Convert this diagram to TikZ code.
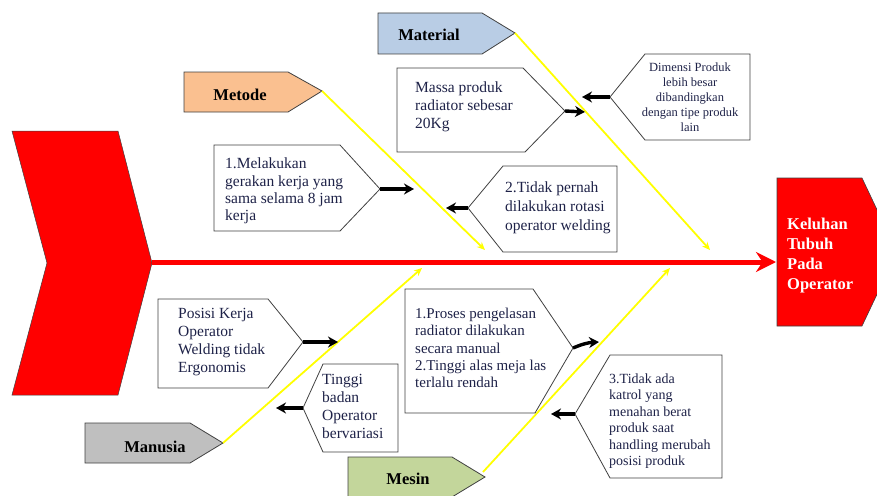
\documentclass[tikz,border=0pt]{standalone}
\usepackage{fontspec}
\setmainfont{Liberation Serif}
\usetikzlibrary{arrows.meta}
\definecolor{txtc}{HTML}{1E2248}
\definecolor{edgec}{HTML}{404040}
\definecolor{matc}{HTML}{B9CDE5}
\definecolor{metc}{HTML}{FAC090}
\definecolor{manc}{HTML}{BFBFBF}
\definecolor{mesc}{HTML}{C3D69B}
\definecolor{redc}{HTML}{FF0000}
\definecolor{yelc}{HTML}{FFFF00}
\begin{document}
\begin{tikzpicture}[x=1pt,y=-1pt,
  shapebox/.style={draw=edgec, line width=0.8pt, fill=white},
  catbox/.style={draw=edgec, line width=0.8pt},
  txtnode/.style={anchor=north west, inner sep=0pt, align=left, text=txtc, font=\fontsize{15.5}{18}\selectfont},
  catlabel/.style={inner sep=0pt, text=black, font=\fontsize{16.5}{18}\selectfont\bfseries},
  bone/.style={draw=yelc, line width=1.8pt, -{Stealth[length=8pt,width=7pt]}},
  causearrow/.style={draw=black, line width=3.4pt, -{Stealth[length=10pt,width=11pt]}}]
\useasboundingbox (0,0) rectangle (877,495);

% tail chevron
\fill[redc] (12,131) -- (118,131) -- (152,263) -- (118,395) -- (12,395) -- (47,263) -- cycle;
\draw[edgec, line width=0.5pt] (12,131) -- (118,131) -- (152,263) -- (118,395) -- (12,395) -- (47,263) -- cycle;
\coordinate (tail) at (152,262);

% head
\fill[redc] (777,178) -- (862,178) -- (897,252) -- (862,326) -- (777,326) -- cycle;
\draw[edgec, line width=0.6pt] (777,178) -- (862,178) -- (897,252) -- (862,326) -- (777,326) -- cycle;
\coordinate (headin) at (776,262);
\node[anchor=north west, inner sep=0pt, align=left, text=white, font=\fontsize{16.5}{20}\selectfont\bfseries] (head) at (787,217.5) {Keluhan\\Tubuh\\Pada\\Operator};

% spine
\draw[redc, line width=5pt, -{Stealth[length=20pt,width=20pt]}] (tail) -- (headin);

% category boxes
\filldraw[catbox, fill=matc] (378,13) -- (482,13) -- (515,33) -- (482,54) -- (378,54) -- cycle;
\coordinate (matTip) at (515,33);
\node[catlabel] (matLabel) at (429,35) {Material};

\filldraw[catbox, fill=metc] (184,72) -- (288,72) -- (322,91) -- (288,112) -- (184,112) -- cycle;
\coordinate (metTip) at (322,91);
\node[catlabel] (metLabel) at (240,95) {Metode};

\filldraw[catbox, fill=manc] (85,423) -- (190,423) -- (223,443) -- (190,463) -- (85,463) -- cycle;
\coordinate (manTip) at (223,443);
\node[catlabel] (manLabel) at (155,447) {Manusia};

\filldraw[catbox, fill=mesc] (348,457) -- (452,457) -- (485,477) -- (452,497) -- (348,497) -- cycle;
\coordinate (mesTip) at (483,472);
\node[catlabel] (mesLabel) at (408,479) {Mesin};

% bones
\coordinate (matEnd) at (710,250);
\coordinate (metEnd) at (485,250);
\coordinate (manEnd) at (422,268);
\coordinate (mesEnd) at (670,268);
\draw[bone] (matTip) -- (matEnd);
\draw[bone] (metTip) -- (metEnd);
\draw[bone] (manTip) -- (manEnd);
\draw[bone] (mesTip) -- (mesEnd);

% Material causes
\draw[shapebox] (397,68) -- (523,68) -- (565,111) -- (525,152) -- (397,152) -- cycle;
\coordinate (massaTip) at (565,111);
\coordinate (massaEnd) at (585,112);
\node[txtnode] (massa) at (415,82) {Massa produk\\radiator sebesar\\20Kg};
\draw[causearrow] (massaTip) -- (massaEnd);

\draw[shapebox] (610,97) -- (645,54) -- (750,54) -- (750,140) -- (645,140) -- cycle;
\coordinate (dimTip) at (610,97);
\coordinate (dimEnd) at (582,97);
\node[anchor=north, inner sep=0pt, align=center, text=txtc, font=\fontsize{12.5}{15}\selectfont] (dim) at (690,63) {Dimensi Produk\\lebih besar\\dibandingkan\\dengan tipe produk\\lain};
\draw[causearrow] (dimTip) -- (dimEnd);

% Metode causes
\draw[shapebox] (214,145) -- (340,145) -- (380,189) -- (340,231) -- (214,231) -- cycle;
\coordinate (melTip) at (380,189);
\coordinate (melEnd) at (414,189);
\node[txtnode, font=\fontsize{15.5}{17.3}\selectfont] (mel) at (225,158) {1.Melakukan\\gerakan kerja yang\\sama selama 8 jam\\kerja};
\draw[causearrow] (melTip) -- (melEnd);

\draw[shapebox] (468,208) -- (503,166) -- (617,166) -- (617,252) -- (503,252) -- cycle;
\coordinate (tidTip) at (468,208);
\coordinate (tidEnd) at (446,208);
\node[txtnode, font=\fontsize{15.5}{19}\selectfont] (tid) at (505,182) {2.Tidak pernah\\dilakukan rotasi\\operator welding};
\draw[causearrow] (tidTip) -- (tidEnd);

% Manusia causes
\draw[shapebox] (158,299) -- (268,299) -- (303,342) -- (268,388) -- (158,388) -- cycle;
\coordinate (posTip) at (303,342);
\coordinate (posEnd) at (338,342);
\node[txtnode] (pos) at (178,308) {Posisi Kerja\\Operator\\Welding tidak\\Ergonomis};
\draw[causearrow] (posTip) -- (posEnd);

\draw[shapebox] (303,408) -- (323,364) -- (398,364) -- (398,452) -- (323,452) -- cycle;
\coordinate (tinTip) at (303,408);
\coordinate (tinEnd) at (276,408);
\node[txtnode] (tin) at (322,374) {Tinggi\\badan\\Operator\\bervariasi};
\draw[causearrow] (tinTip) -- (tinEnd);

% Mesin causes
\draw[shapebox] (405,289) -- (533,289) -- (573,348) -- (535,413) -- (405,413) -- cycle;
\coordinate (proTip) at (573,348);
\coordinate (proEnd) at (599,342);
\node[txtnode, font=\fontsize{15}{17.3}\selectfont] (pro) at (415,308) {1.Proses pengelasan\\radiator dilakukan\\secara manual\\2.Tinggi alas meja las\\terlalu rendah};
\draw[causearrow] (proTip) to[bend left=10] (proEnd);

\draw[shapebox] (575,414) -- (610,355) -- (722,355) -- (722,478) -- (610,478) -- cycle;
\coordinate (katTip) at (575,414);
\coordinate (katEnd) at (551,414);
\node[txtnode, font=\fontsize{14}{16.5}\selectfont] (kat) at (609,373.5) {3.Tidak ada\\katrol yang\\menahan berat\\produk saat\\handling merubah\\posisi produk};
\draw[causearrow] (katTip) -- (katEnd);
\end{tikzpicture}
\end{document}
